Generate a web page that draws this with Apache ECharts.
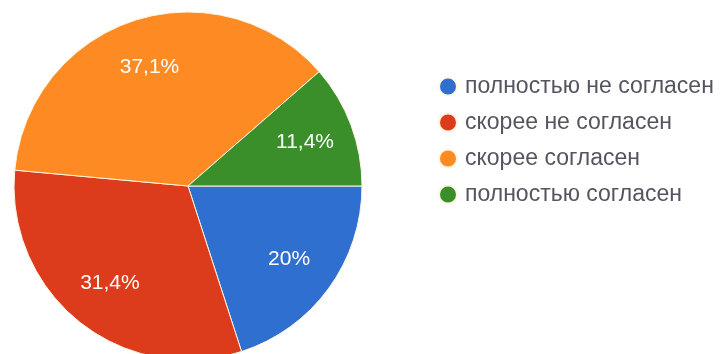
<!DOCTYPE html>
<html>
<head>
<meta charset="utf-8">
<script src="https://cdn.jsdelivr.net/npm/echarts@6/dist/echarts.min.js"></script>
<style>
html,body{margin:0;padding:0;background:#fff;}
#chart{width:722px;height:354px;}
</style>
</head>
<body>
<div id="chart"></div>
<script>
const categories = ['полностью не согласен', 'скорее не согласен', 'скорее согласен', 'полностью согласен'];
const values = [20, 31.4, 37.1, 11.4];
const colors = ['#2f6fd0', '#dd3c1c', '#fd8a22', '#3a8f2a'];

const pieData = categories.map((name, i) => ({ name: name, value: values[i] }));
const fontFamily = '"Liberation Sans", Arial, sans-serif';

const chart = echarts.init(document.getElementById('chart'), null, { renderer: 'canvas' });
chart.setOption({
  animation: false,
  backgroundColor: '#ffffff',
  color: colors,
  legend: {
    orient: 'vertical',
    left: 433,
    top: 70,
    icon: 'circle',
    itemWidth: 18,
    itemHeight: 18,
    itemGap: 13,
    data: categories,
    textStyle: {
      fontFamily: fontFamily,
      fontSize: 23,
      color: '#555560',
      padding: [0, 0, 0, 3]
    }
  },
  series: [
    {
      type: 'pie',
      center: [188, 186],
      radius: [0, 174],
      startAngle: 0,
      clockwise: true,
      silent: true,
      label: { show: false },
      labelLine: { show: false },
      itemStyle: { borderColor: '#fff5e0', borderWidth: 1 },
      data: pieData
    },
    {
      type: 'pie',
      center: [188, 186],
      radius: [70, 174],
      startAngle: 0,
      clockwise: true,
      silent: true,
      legendHoverLink: false,
      itemStyle: { color: 'rgba(0,0,0,0)', borderWidth: 0 },
      label: {
        show: true,
        position: 'inside',
        color: '#ffffff',
        fontFamily: fontFamily,
        fontSize: 21,
        formatter: p => String(p.value).replace('.', ',') + '%'
      },
      labelLine: { show: false },
      data: pieData
    }
  ]
});
</script>
</body>
</html>
